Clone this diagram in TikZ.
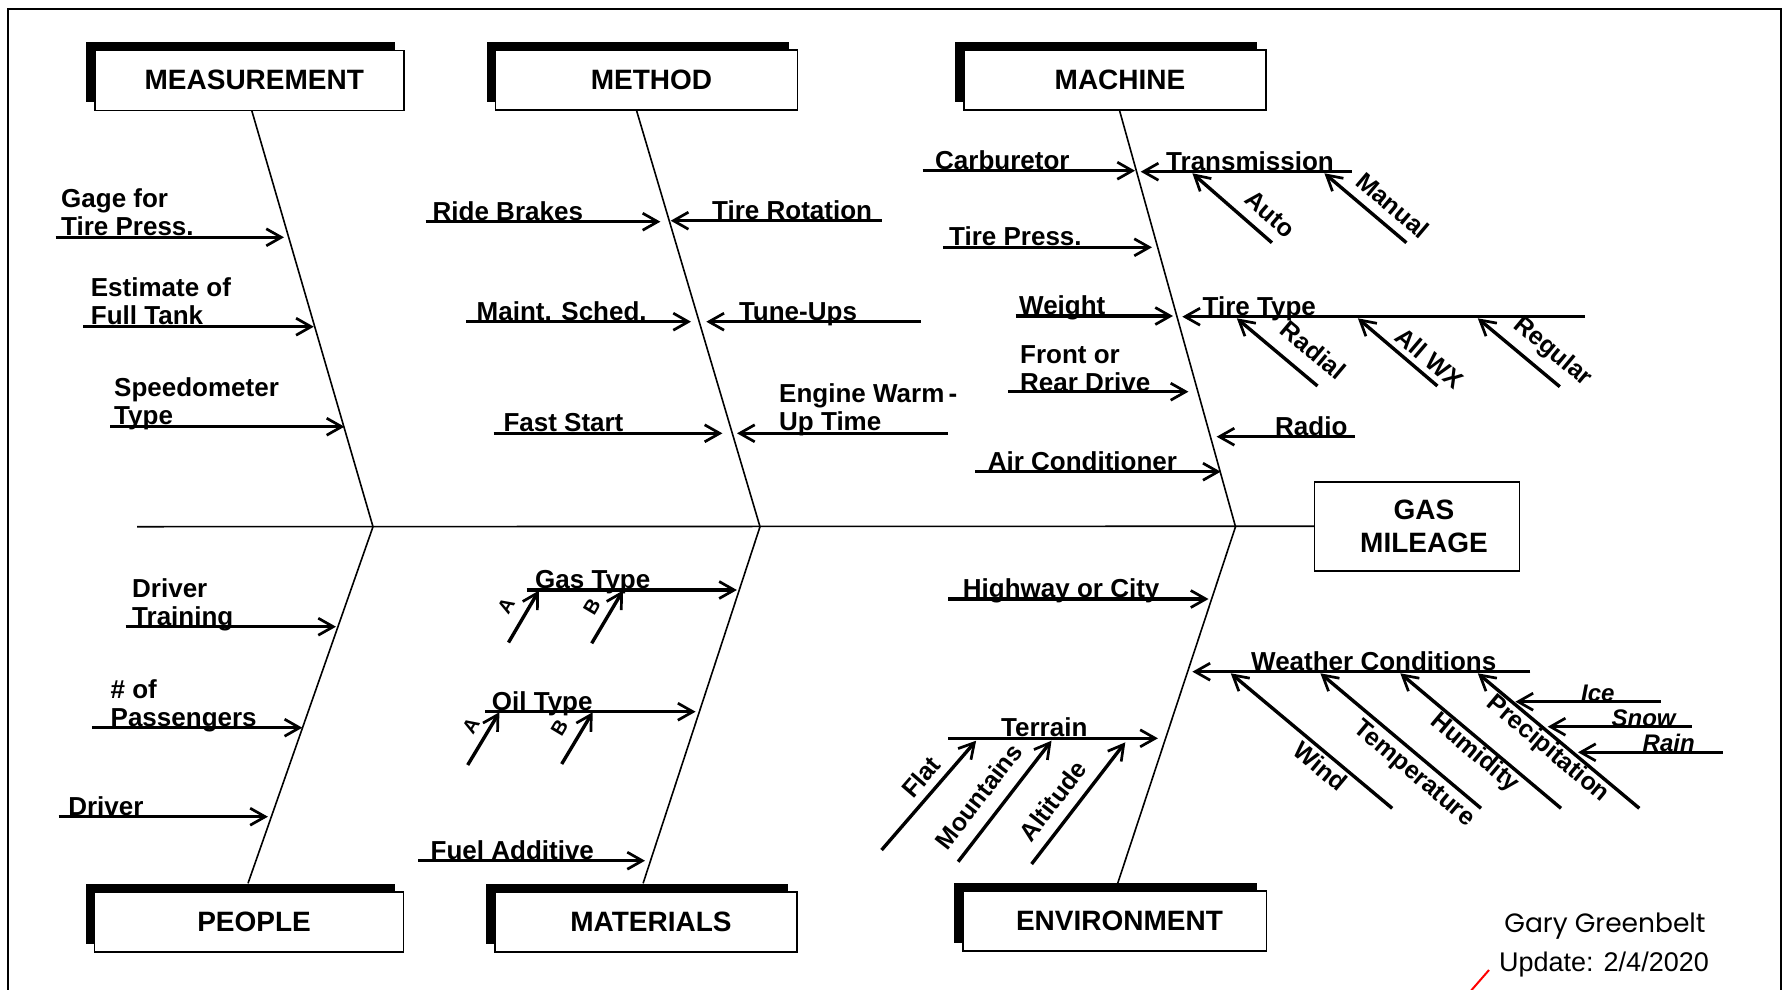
\documentclass[tikz,border=0pt]{standalone}
\usepackage{fontspec}
\setmainfont{Liberation Sans}
\newfontfamily\sigfont{Poppins}
\usetikzlibrary{arrows.meta,shadows}
\newcommand\TwoL[2]{\vbox{\hbox{#1}\hbox{#2}}}
\newcommand\CatT[1]{\hspace*{10pt}#1}
\begin{document}
\begin{tikzpicture}[x=1pt,y=-1pt,
  bone/.style={line width=1.6pt},
  arr/.style={line width=3.4pt,-{Straight Barb[length=15pt,width=17pt,line width=2.7pt]}},
  lbl/.style={anchor=base west,inner sep=0pt,yshift=-2.5pt,font=\fontsize{26}{28}\selectfont\bfseries},
  ilbl/.style={anchor=base west,inner sep=0pt,yshift=-2pt,font=\fontsize{24}{26}\selectfont\bfseries\itshape},
  dlbl/.style={sloped,inner sep=0pt,font=\fontsize{25}{27}\selectfont\bfseries},
  ablbl/.style={sloped,inner sep=0pt,font=\fontsize{20}{22}\selectfont\bfseries},
  catbox/.style={draw,line width=1.6pt,fill=white,minimum height=60pt,inner sep=0pt,
    font=\fontsize{28}{33}\selectfont\bfseries,
    general shadow={fill=black,shadow xshift=-9pt,shadow yshift=8pt}},
  effbox/.style={draw,line width=1.6pt,fill=white,minimum width=204.7pt,minimum height=89pt,
    inner sep=0pt,align=center,font=\fontsize{28}{33}\selectfont\bfseries}]
\useasboundingbox (0,0) rectangle (1783,989);
\fill[white] (0,0) rectangle (1783,989);
% outer frame
\draw[line width=2pt] (8,1000) -- (8,8.5) -- (1781,8.5) -- (1781,1000);

% category boxes
\node[catbox,minimum width=309pt] (meas) at (249.3,80.3) {\CatT{MEASUREMENT}};
\node[catbox,minimum width=302pt] (meth) at (646.5,80) {\CatT{METHOD}};
\node[catbox,minimum width=302.5pt] (mach) at (1115,80) {\CatT{MACHINE}};
\node[catbox,minimum width=309pt] (peop) at (249.1,921.7) {\CatT{PEOPLE}};
\node[catbox,minimum width=302pt] (matl) at (645.9,921.7) {\CatT{MATERIALS}};
\node[catbox,minimum width=303.6pt] (envi) at (1114.5,921.2) {\CatT{ENVIRONMENT}};
\node[effbox] (gas) at (1417,526.2) {\hspace*{14pt}GAS\\\hspace*{14pt}MILEAGE};

% spine and bones
\coordinate (spL) at (137,526.7);
\coordinate (J1) at (373,526.7);
\coordinate (J2) at (760,526.7);
\coordinate (J3) at (1235.5,526.7);
\coordinate (measB) at (251.8,110.7);
\coordinate (methB) at (636.6,110.7);
\coordinate (machB) at (1119.6,110.7);
\coordinate (peopB) at (248,883.3);
\coordinate (matlB) at (643.1,883.3);
\coordinate (enviB) at (1117.7,883.3);
\draw[bone] (spL) -- (gas.west);
\draw[bone] (measB) -- (J1) -- (peopB);
\draw[bone] (methB) -- (J2) -- (matlB);
\draw[bone] (machB) -- (J3) -- (enviB);

% ---------- MEASUREMENT ----------
\coordinate (a1s) at (55.5,237.3);  \coordinate (a1t) at (284,237.3);
\coordinate (a2s) at (83.4,326.7);  \coordinate (a2t) at (313.8,326.7);
\coordinate (a3s) at (110,426.7);   \coordinate (a3t) at (344.4,426.7);
\draw[arr] (a1s) -- (a1t);
\draw[arr] (a2s) -- (a2t);
\draw[arr] (a3s) -- (a3t);
\node[lbl] (a1l) at (61,233) {\TwoL{Gage for}{Tire Press.}};
\node[lbl] (a2l) at (90.7,322) {\TwoL{Estimate of}{Full Tank}};
\node[lbl] (a3l) at (114,422) {\TwoL{Speedometer}{Type}};

% ---------- METHOD ----------
\coordinate (b1s) at (425.6,221.7); \coordinate (b1t) at (660.4,221.7);
\coordinate (b2s) at (466,321.7);   \coordinate (b2t) at (691,321.7);
\coordinate (b3s) at (493.7,433.3); \coordinate (b3t) at (722.4,433.3);
\coordinate (b4s) at (881.6,220.7); \coordinate (b4t) at (670.7,220.7);
\coordinate (b5s) at (920.6,321.7); \coordinate (b5t) at (706.3,321.7);
\coordinate (b6s) at (948,433.3);   \coordinate (b6t) at (737,433.3);
\draw[arr] (b1s) -- (b1t);
\draw[arr] (b2s) -- (b2t);
\draw[arr] (b3s) -- (b3t);
\draw[arr] (b4s) -- (b4t);
\draw[arr] (b5s) -- (b5t);
\draw[arr] (b6s) -- (b6t);
\node[lbl] (b1l) at (432.5,217.5) {Ride Brakes};
\node[lbl] (b2l) at (476.5,317.5) {Maint. Sched.};
\node[lbl] (b3l) at (503.3,429) {Fast Start};
\node[lbl] (b4l) at (712,216.5) {Tire Rotation};
\node[lbl] (b5l) at (738.8,317.5) {Tune-Ups};
\node[lbl] (b6l) at (779,428) {\TwoL{Engine Warm\,-}{Up Time}};

% ---------- MACHINE ----------
\coordinate (c1s) at (922.5,170.7);  \coordinate (c1t) at (1135,170.7);
\coordinate (c2s) at (1351.9,171.7); \coordinate (c2t) at (1140.7,171.7);
\coordinate (c2as) at (1271.9,242.7); \coordinate (c2at) at (1192.4,173.3);
\coordinate (c2bs) at (1406.4,242.7); \coordinate (c2bt) at (1324.4,173.3);
\coordinate (c3s) at (942.8,247.3);  \coordinate (c3t) at (1152,247.3);
\coordinate (c4s) at (1015.5,316);   \coordinate (c4t) at (1173,316);
\coordinate (c5s) at (1585.2,316.7); \coordinate (c5t) at (1182.3,316.7);
\coordinate (c5as) at (1317.5,386);   \coordinate (c5at) at (1236.8,318.3);
\coordinate (c5bs) at (1437.4,386);   \coordinate (c5bt) at (1357.9,318.3);
\coordinate (c5cs) at (1559.8,386.7); \coordinate (c5ct) at (1477.8,318.3);
\coordinate (c6s) at (1007.9,391.7); \coordinate (c6t) at (1188.4,391.7);
\coordinate (c7s) at (1355,436.7);   \coordinate (c7t) at (1216.6,436.7);
\coordinate (c8s) at (975,471.7);    \coordinate (c8t) at (1220.7,471.7);
\draw[arr] (c1s) -- (c1t);
\draw[arr] (c2s) -- (c2t);
\draw[arr] (c2as) -- node[dlbl,pos=0.19,above=10pt] (c2al) {Auto} (c2at);
\draw[arr] (c2bs) -- node[dlbl,pos=0.32,above=9pt] (c2bl) {Manual} (c2bt);
\draw[arr] (c3s) -- (c3t);
\draw[arr] (c4s) -- (c4t);
\draw[arr] (c5s) -- (c5t);
\draw[arr] (c5as) -- node[dlbl,pos=0.25,above=14pt] (c5al) {Radial} (c5at);
\draw[arr] (c5bs) -- node[dlbl,pos=0.23,above=5.5pt] (c5bl) {All WX} (c5bt);
\draw[arr] (c5cs) -- node[dlbl,pos=0.26,above=8.5pt] (c5cl) {Regular} (c5ct);
\draw[arr] (c6s) -- (c6t);
\draw[arr] (c7s) -- (c7t);
\draw[arr] (c8s) -- (c8t);
\node[lbl] (c1l) at (935,166.5) {Carburetor};
\node[lbl] (c2l) at (1166,167.5) {Transmission};
\node[lbl] (c3l) at (949,243) {Tire Press.};
\node[lbl] (c4l) at (1019,312) {Weight};
\node[lbl] (c5l) at (1202.5,312.5) {Tire Type};
\node[lbl] (c6l) at (1020,388.5) {\TwoL{Front or}{Rear Drive}};
\node[lbl] (c7l) at (1275,432.5) {Radio};
\node[lbl] (c8l) at (987.6,467.5) {Air Conditioner};

% ---------- PEOPLE ----------
\coordinate (d1s) at (125.5,626.7); \coordinate (d1t) at (336,626.7);
\coordinate (d2s) at (91.8,727.7);  \coordinate (d2t) at (302.3,727.7);
\coordinate (d3s) at (58.6,816.7);  \coordinate (d3t) at (267.9,816.7);
\draw[arr] (d1s) -- (d1t);
\draw[arr] (d2s) -- (d2t);
\draw[arr] (d3s) -- (d3t);
\node[lbl] (d1l) at (132,622.5) {\TwoL{Driver}{Training}};
\node[lbl] (d2l) at (110.5,723.5) {\TwoL{\# of}{Passengers}};
\node[lbl] (d3l) at (68.1,812.5) {Driver};

% ---------- MATERIALS ----------
\coordinate (e1s) at (526.7,590);   \coordinate (e1t) at (736.9,590);
\coordinate (e1as) at (508.5,642.5); \coordinate (e1at) at (539,590.5);
\coordinate (e1bs) at (591.7,643.3); \coordinate (e1bt) at (623,590.5);
\coordinate (e2s) at (485.3,711.7); \coordinate (e2t) at (695.6,711.7);
\coordinate (e2as) at (467.7,765);   \coordinate (e2at) at (499.4,712.2);
\coordinate (e2bs) at (561.7,764);   \coordinate (e2bt) at (592.7,712.2);
\coordinate (e3s) at (418,860.7);   \coordinate (e3t) at (645,860.7);
\draw[arr] (e1s) -- (e1t);
\draw[arr] (e1as) -- node[ablbl,pos=0.5,above=12pt] (e1al) {A} (e1at);
\draw[arr] (e1bs) -- node[ablbl,pos=0.52,above=10pt] (e1bl) {B} (e1bt);
\draw[arr] (e2s) -- (e2t);
\draw[arr] (e2as) -- node[ablbl,pos=0.58,above=9pt] (e2al) {A} (e2at);
\draw[arr] (e2bs) -- node[ablbl,pos=0.5,above=12pt] (e2bl) {B} (e2bt);
\draw[arr] (e3s) -- (e3t);
\node[lbl] (e1l) at (535,586) {Gas Type};
\node[lbl] (e2l) at (491.7,707.5) {Oil Type};
\node[lbl] (e3l) at (430.5,856.5) {Fuel Additive};

% ---------- ENVIRONMENT ----------
\coordinate (f1s) at (948.1,599);   \coordinate (f1t) at (1208.5,599);
\coordinate (f2s) at (948.1,738.3); \coordinate (f2t) at (1157.9,738.3);
\coordinate (f2as) at (881.6,850);   \coordinate (f2at) at (976.1,740.7);
\coordinate (f2bs) at (958.1,861.7); \coordinate (f2bt) at (1051.5,740.7);
\coordinate (f2cs) at (1031.6,864);  \coordinate (f2ct) at (1125.3,742.3);
\coordinate (f3s) at (1530.3,671.7); \coordinate (f3t) at (1192.4,671.7);
\coordinate (f3as) at (1392.2,808.3); \coordinate (f3at) at (1230.7,673.3);
\coordinate (f3bs) at (1481,808.3);   \coordinate (f3bt) at (1320.4,673.3);
\coordinate (f3cs) at (1561,808.3);   \coordinate (f3ct) at (1400.3,673.3);
\coordinate (f3ds) at (1639.3,808.3); \coordinate (f3dt) at (1477.8,673.3);
\coordinate (g1s) at (1660.7,701.7); \coordinate (g1t) at (1515.4,701.7);
\coordinate (g2s) at (1691.8,726.7); \coordinate (g2t) at (1547.7,726.7);
\coordinate (g3s) at (1722.5,752.3); \coordinate (g3t) at (1578,752.3);
\draw[arr] (f1s) -- (f1t);
\draw[arr] (f2s) -- (f2t);
\draw[arr] (f2as) -- node[dlbl,pos=0.56,above=7pt] (f2al) {Flat} (f2at);
\draw[arr] (f2bs) -- node[dlbl,pos=0.42,above=13pt] (f2bl) {Mountains} (f2bt);
\draw[arr] (f2cs) -- node[dlbl,pos=0.41,above=11pt] (f2cl) {Altitude} (f2ct);
\draw[arr] (f3s) -- (f3t);
\draw[arr] (f3as) -- node[dlbl,pos=0.39,below=3pt] (f3al) {Wind} (f3at);
\draw[arr] (f3bs) -- node[dlbl,pos=0.35,below=4.5pt] (f3bl) {Temperature} (f3bt);
\draw[arr] (f3cs) -- node[dlbl,pos=0.485,below=0pt] (f3cl) {Humidity} (f3ct);
\draw[arr] (f3ds) -- node[dlbl,pos=0.514,below=0pt] (f3dl) {Precipitation} (f3dt);
\draw[arr] (g1s) -- (g1t);
\draw[arr] (g2s) -- (g2t);
\draw[arr] (g3s) -- (g3t);
\node[lbl] (f1l) at (962.7,595) {Highway or City};
\node[lbl] (f2l) at (1001,734.3) {Terrain};
\node[lbl] (f3l) at (1251,667.5) {Weather Conditions};
\node[ilbl] (g1l) at (1581,699) {Ice};
\node[ilbl] (g2l) at (1611.4,724) {Snow};
\node[ilbl] (g3l) at (1642.5,749.5) {Rain};

% signature
\node[inner sep=0pt,anchor=base,font=\sigfont\fontsize{26.5}{28}\selectfont] (sig) at (1605,932) {Gary Greenbelt};
\node[inner sep=0pt,anchor=base,font=\fontsize{27}{29}\selectfont] (upd) at (1604,971) {Update: 2/4/2020};
\coordinate (r1) at (1489,970); \coordinate (r2) at (1469,993);
\draw[red,line width=2pt] (r1) -- (r2);
\end{tikzpicture}
\end{document}
